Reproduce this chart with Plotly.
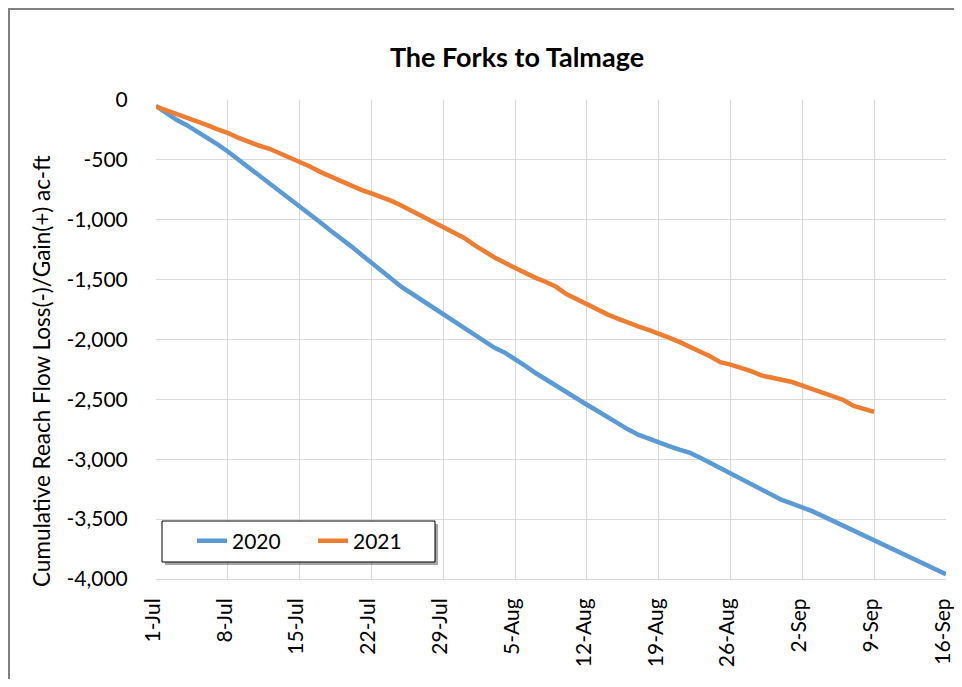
import pandas as pd
import plotly.graph_objects as go

# Categories: daily dates 1-Jul .. 16-Sep
dates = pd.date_range("2020-07-01", "2020-09-16", freq="D")
categories = [f"{d.day}-{d.strftime('%b')}" for d in dates]
tick_labels = categories[::7]

values_2020 = [
    -50, -110, -165, -210, -260, -310, -370, -430, -495, -555,
    -620, -685, -755, -820, -885, -950, -1020, -1090, -1150, -1220,
    -1290, -1360, -1430, -1500, -1565, -1620, -1675, -1730, -1785, -1845,
    -1900, -1955, -2015, -2070, -2110, -2160, -2220, -2280, -2335, -2390,
    -2445, -2500, -2545, -2595, -2650, -2700, -2750, -2795, -2830, -2860,
    -2890, -2920, -2945, -2985, -3030, -3080, -3120, -3165, -3215, -3260,
    -3300, -3340, -3370, -3400, -3435, -3475, -3515, -3555, -3595, -3635,
    -3680, -3720, -3765, -3805, -3845, -3880, -3915, -3960,
]

values_2021 = [
    -55, -85, -120, -150, -180, -210, -245, -275, -315, -350,
    -380, -405, -440, -475, -515, -555, -600, -640, -675, -710,
    -750, -780, -810, -845, -885, -930, -970, -1010, -1055, -1110,
    -1150, -1210, -1265, -1315, -1360, -1405, -1445, -1485, -1520, -1560,
    -1620, -1665, -1710, -1750, -1790, -1825, -1860, -1890, -1920, -1950,
    -1985, -2020, -2055, -2100, -2140, -2190, -2210, -2235, -2265, -2300,
    -2320, -2340, -2355, -2385, -2415, -2445, -2475, -2505, -2555, -2580,
    -2605,
]

y_ticks = list(range(0, -4001, -500))
y_tick_text = [f"{v:,}" for v in y_ticks]

FONT = "Lato, Carlito, Calibri, sans-serif"

fig = go.Figure()
fig.add_trace(go.Scatter(
    x=categories[:len(values_2020)], y=values_2020, name="2020", mode="lines",
    line=dict(color="#5B9BD5", width=4.5),
))
fig.add_trace(go.Scatter(
    x=categories[:len(values_2021)], y=values_2021, name="2021", mode="lines",
    line=dict(color="#ED7D31", width=4.5),
))

# page body has an 8px margin on every side: keep the figure inside the window
OFF = 8
W, H = 962 - 2 * OFF, 687 - 2 * OFF
L, R, T, B = 156, 946, 100, 579  # plot area in screen px

def px(x):
    return (x - L) / (R - L)

def py(y):
    return (B - y) / (B - T)

shapes = [
    # outer chart border
    dict(type="rect", xref="paper", yref="paper",
         x0=px(9), x1=px(1000), y0=py(720), y1=py(9),
         line=dict(color="#7f7f7f", width=2), fillcolor="rgba(0,0,0,0)", layer="below"),
    # legend shadow
    dict(type="rect", xref="paper", yref="paper",
         x0=px(165), x1=px(438), y0=py(565), y1=py(524),
         line=dict(width=0), fillcolor="rgba(0,0,0,0.35)", layer="above"),
    # legend box
    dict(type="rect", xref="paper", yref="paper",
         x0=px(162), x1=px(435), y0=py(562), y1=py(521),
         line=dict(color="#000000", width=1), fillcolor="#ffffff", layer="above"),
]

annotations = [
    dict(text="Cumulative Reach Flow Loss(-)/Gain(+) ac-ft", xref="paper", yref="paper",
         x=px(42), y=py(371), xanchor="center", yanchor="middle", textangle=-90,
         showarrow=False, font=dict(size=22.5, family=FONT, color="#000000")),
]

fig.update_layout(
    width=W, height=H,
    margin=dict(l=L - OFF, r=(OFF + W) - R, t=T - OFF, b=(OFF + H) - B, pad=0),
    paper_bgcolor="white", plot_bgcolor="white",
    font=dict(family=FONT, size=21, color="#000000"),
    title=dict(text="<b>The Forks to Talmage</b>", x=(517 - OFF) / W, xanchor="center",
               y=1 - (58 - OFF) / H, yanchor="middle", font=dict(size=27, family=FONT)),
    xaxis=dict(
        type="category", categoryorder="array", categoryarray=categories,
        range=[0, len(categories) - 1],
        tickmode="array", tickvals=tick_labels, ticktext=tick_labels,
        tickangle=-90, showgrid=True, gridcolor="#d9d9d9", gridwidth=1,
        showline=True, linecolor="#d9d9d9", linewidth=1,
        ticks="outside", ticklen=10, tickcolor="rgba(0,0,0,0)",
        zeroline=False, tickfont=dict(size=21), automargin=False,
        ticklabelshift=-3,
    ),
    yaxis=dict(
        range=[-4000, 0], tickmode="array", tickvals=y_ticks, ticktext=y_tick_text,
        showgrid=True, gridcolor="#d9d9d9", gridwidth=1, zeroline=False,
        showline=False, ticks="outside", ticklen=23, tickcolor="rgba(0,0,0,0)",
        tickfont=dict(size=21), automargin=False,
    ),
    showlegend=True,
    legend=dict(
        orientation="h", x=px(192), y=py(541), xanchor="left", yanchor="middle",
        bgcolor="rgba(0,0,0,0)", borderwidth=0, font=dict(size=21),
        entrywidth=76, entrywidthmode="pixels", itemwidth=30,
    ),
    shapes=shapes,
    annotations=annotations,
)

fig.write_html("out.html")
